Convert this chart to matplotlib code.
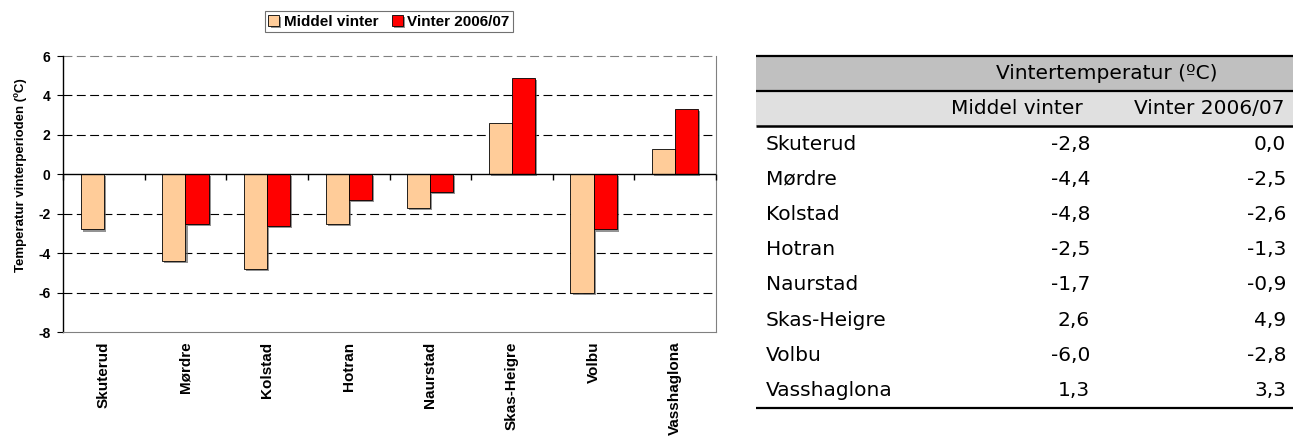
import numpy as np
import matplotlib.pyplot as plt
from matplotlib import patheffects

stations = ['Skuterud', 'Mørdre', 'Kolstad', 'Hotran', 'Naurstad',
            'Skas-Heigre', 'Volbu', 'Vasshaglona']
middel = [-2.8, -4.4, -4.8, -2.5, -1.7, 2.6, -6.0, 1.3]
vinter0607 = [0.0, -2.5, -2.6, -1.3, -0.9, 4.9, -2.8, 3.3]
series_names = ['Middel vinter', 'Vinter 2006/07']
yticks = [-8, -6, -4, -2, 0, 2, 4, 6]
ylabel = 'Temperatur vinterperioden (ºC)'
table_title = 'Vintertemperatur (ºC)'

W, H = 1293, 438
plt.rcParams['font.family'] = ['Liberation Sans', 'DejaVu Sans']
fig = plt.figure(figsize=(W / 100, H / 100), dpi=100)

# bar chart
ax = fig.add_axes([63 / W, 1 - 332 / H, 653 / W, 276 / H])
x = np.arange(len(stations))
bw = 0.283
shadow = [patheffects.SimplePatchShadow(offset=(1.5, -1.5), shadow_rgbFace='0.4', alpha=0.7),
          patheffects.Normal()]
b1 = ax.bar(x - bw / 2, middel, bw, color='#FFCC99', edgecolor='black',
            linewidth=0.6, label=series_names[0], zorder=3)
b2 = ax.bar(x + bw / 2, vinter0607, bw, color='#FF0000', edgecolor='black',
            linewidth=0.6, label=series_names[1], zorder=3)
for b in list(b1) + list(b2):
    b.set_path_effects(shadow)

ax.set_xlim(-0.5, len(stations) - 0.5)
ax.set_ylim(yticks[0], yticks[-1])
for yv in yticks[1:-1]:
    if yv != 0:
        ax.axhline(yv, color='black', lw=0.8, ls=(0, (8, 4)), zorder=1)
ax.axhline(yticks[-1], color='0.5', lw=0.8, ls=(0, (8, 4)), zorder=1, clip_on=False)
ax.axhline(0, color='black', lw=1.0, zorder=4)
ax.vlines(np.arange(len(stations) + 1) - 0.5, -0.28, 0, color='black', lw=1.0,
          zorder=4, clip_on=False)

ax.spines['top'].set_visible(False)
ax.spines['left'].set_color('black')
ax.spines['left'].set_linewidth(1.0)
for s in ['right', 'bottom']:
    ax.spines[s].set_color('0.5')
    ax.spines[s].set_linewidth(0.8)

ax.set_yticks(yticks)
ax.set_yticklabels([str(v) for v in yticks], fontweight='bold', fontsize=10)
ax.tick_params(axis='y', direction='out', length=4, width=0.8, pad=5)
ax.set_xticks(x)
ax.set_xticklabels(stations, rotation=90, fontweight='bold', fontsize=11, va='top')
ax.tick_params(axis='x', length=0, pad=7)
ax.set_ylabel(ylabel, fontweight='bold', fontsize=9.5)
ax.yaxis.set_label_coords(-0.055, 0.57)

leg = fig.legend(handles=[b1, b2], loc='center', bbox_to_anchor=(389 / W, 1 - 21.5 / H),
                 ncol=2, frameon=True, fancybox=False, edgecolor='0.3',
                 prop={'weight': 'bold', 'size': 11}, handlelength=0.7, handleheight=0.7,
                 handletextpad=0.3, columnspacing=0.9, borderpad=0.25, borderaxespad=0)
leg.get_frame().set_linewidth(0.8)

# table on the right
tax = fig.add_axes([0, 0, 1, 1], zorder=-1)
tax.set_xlim(0, W)
tax.set_ylim(H, 0)
tax.axis('off')
t_left, t_right, t_top, row_h = 756, 1293, 56, 35.2
nrows = len(stations) + 2
tax.fill_between([t_left, t_right], t_top, t_top + row_h, color='#C0C0C0', lw=0)
tax.fill_between([t_left, t_right], t_top + row_h, t_top + 2 * row_h, color='#E0E0E0', lw=0)
for i, lw in [(0, 1.6), (1, 1.6), (2, 1.8), (nrows, 1.6)]:
    tax.hlines(t_top + i * row_h, t_left, t_right, color='black', lw=lw)

tf = dict(family='DejaVu Sans', fontsize=14.5, va='center')
tax.text(1107, t_top + 0.5 * row_h, table_title, ha='center', **tf)
tax.text(1083, t_top + 1.5 * row_h, series_names[0], ha='right', **tf)
tax.text(1284, t_top + 1.5 * row_h, series_names[1], ha='right', **tf)
for i, (name, m, v) in enumerate(zip(stations, middel, vinter0607)):
    yc = t_top + (i + 2.5) * row_h
    tax.text(766, yc, name, ha='left', **tf)
    tax.text(1090, yc, f'{m:.1f}'.replace('.', ','), ha='right', **tf)
    tax.text(1286, yc, f'{v:.1f}'.replace('.', ','), ha='right', **tf)

fig.savefig('out.png', dpi=100)
